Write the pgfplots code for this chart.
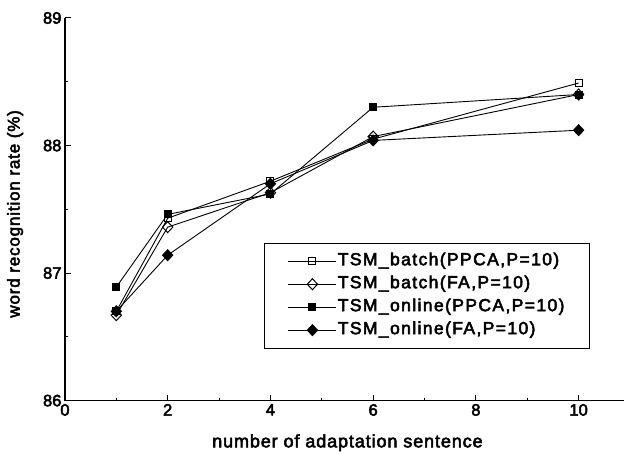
\documentclass[border=0pt]{standalone}
\usepackage{fontspec}
\setmainfont{Liberation Sans}[FakeBold=3]
\newfontfamily\legfont[LetterSpace=8,FakeBold=3]{Liberation Sans}
\newfontfamily\labfont[LetterSpace=5,FakeBold=3]{Liberation Sans}
\usepackage{pgfplots}
\pgfplotsset{compat=1.18}
\begin{document}
\begin{tikzpicture}
\begin{axis}[
  scale only axis, width=560pt, height=383pt,
  xmin=0, xmax=10.89, ymin=86, ymax=89,
  axis x line*=bottom, axis y line*=left,
  axis line style={line width=1.3pt},
  tick align=inside, tick style={black, line width=1pt},
  major tick length=6pt, minor tick length=3pt,
  xtick={0,2,4,6,8,10}, ytick={86,87,88,89},
  minor x tick num=1, minor y tick num=1,
  /pgf/number format/assume math mode=true,
  ticklabel style={font=\fontsize{16.5}{18}\selectfont},
  xlabel={\labfont number of adaptation sentence},
  ylabel={\labfont word recognition rate (\%)},
  xlabel style={font=\fontsize{18}{20}\selectfont, at={(axis description cs:0.505,-0.110)}, anchor=center},
  ylabel style={font=\fontsize{17}{19}\selectfont, at={(axis description cs:-0.089,0.488)}, anchor=center},
  legend style={at={(rel axis cs:0.355,0.4125)}, anchor=north west,
    draw=black, line width=1pt, inner xsep=24pt, inner ysep=9pt,
    font=\legfont\fontsize{17.5}{19}\selectfont, row sep=5pt,
    nodes={inner sep=1pt, text height=12pt, text depth=4pt}},
  legend cell align=left,
  legend image code/.code={\draw[mark repeat=2,mark phase=2,#1] plot coordinates {(0pt,0pt) (24pt,0pt) (48pt,0pt)};},
  every axis plot/.append style={black, line width=0.9pt},
]
\addplot[mark=square, mark size=3.5pt, mark options={solid, fill=white, line width=1pt}] coordinates {
  (1,86.70)(2,87.43)(4,87.72)(6,88.05)(10,88.49)
};
\addlegendentry{TSM\_batch(PPCA,P=10)}
\addplot[mark=diamond, mark size=5.5pt, mark options={solid, fill=white, line width=1pt, xscale=1.25}] coordinates {
  (1,86.67)(2,87.36)(4,87.63)(6,88.07)(10,88.40)
};
\addlegendentry{TSM\_batch(FA,P=10)}
\addplot[mark=square*, mark size=3.5pt, mark options={solid}] coordinates {
  (1,86.89)(2,87.46)(4,87.62)(6,88.30)(10,88.40)
};
\addlegendentry{TSM\_online(PPCA,P=10)}
\addplot[mark=diamond*, mark size=5.5pt, mark options={solid, xscale=1.25}] coordinates {
  (1,86.70)(2,87.14)(4,87.70)(6,88.04)(10,88.12)
};
\addlegendentry{TSM\_online(FA,P=10)}
\end{axis}
\path (current axis.south west) ++(-65pt,-54pt) rectangle ++(625pt,455pt);
\end{tikzpicture}
\end{document}
